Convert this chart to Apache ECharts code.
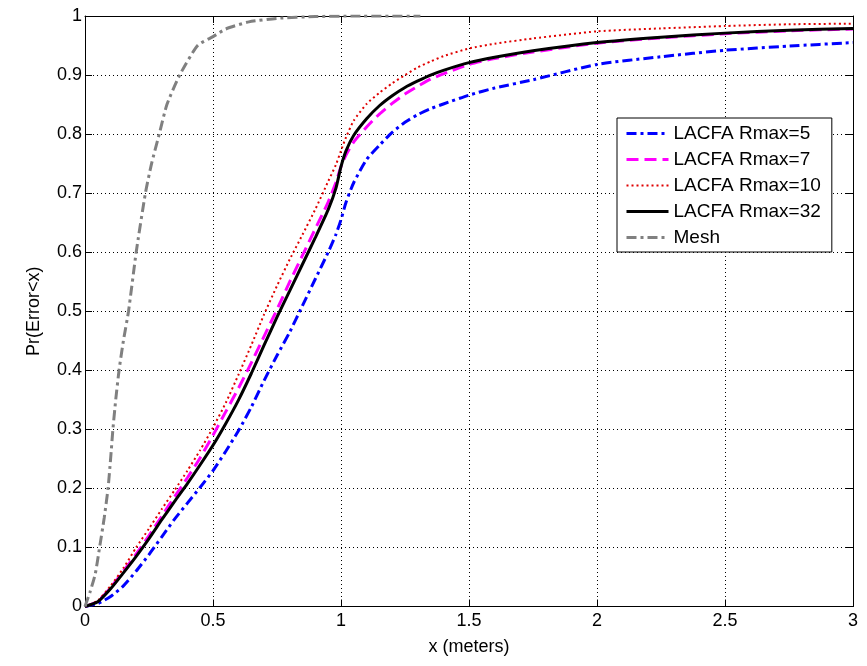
<!DOCTYPE html>
<html>
<head>
<meta charset="utf-8">
<script src="https://cdn.jsdelivr.net/npm/echarts@6/dist/echarts.min.js"></script>
<style>
html,body{margin:0;padding:0;background:#fff;}
#chart{width:867px;height:666px;}
</style>
</head>
<body>
<div id="chart"></div>
<script>
// Shared x positions (meters) for LACFA curves
const xLacfa = [0,0.05,0.1,0.15,0.2,0.25,0.3,0.35,0.4,0.45,0.5,0.55,0.6,0.65,0.7,0.75,0.8,0.85,0.9,0.95,0.98,1.0,1.02,1.05,1.1,1.15,1.2,1.25,1.3,1.35,1.4,1.5,1.6,1.75,2.0,2.25,2.5,2.75,3.0];
const yRmax5 = [0,0.005,0.017,0.035,0.06,0.088,0.118,0.148,0.175,0.202,0.23,0.263,0.298,0.338,0.383,0.425,0.465,0.51,0.555,0.6,0.63,0.655,0.685,0.718,0.757,0.781,0.803,0.82,0.833,0.843,0.851,0.866,0.878,0.892,0.918,0.931,0.942,0.949,0.955];
const yRmax7 = [0,0.009,0.032,0.06,0.089,0.12,0.153,0.186,0.218,0.252,0.29,0.33,0.37,0.413,0.458,0.503,0.55,0.595,0.64,0.685,0.718,0.745,0.765,0.787,0.812,0.834,0.852,0.868,0.881,0.893,0.902,0.918,0.928,0.939,0.954,0.963,0.97,0.975,0.978];
const yRmax10 = [0,0.01,0.035,0.065,0.1,0.132,0.165,0.197,0.23,0.265,0.303,0.345,0.393,0.443,0.495,0.543,0.588,0.63,0.673,0.72,0.748,0.772,0.795,0.823,0.851,0.87,0.886,0.9,0.913,0.923,0.932,0.945,0.953,0.962,0.974,0.979,0.983,0.986,0.987];
const yRmax32 = [0,0.008,0.03,0.057,0.085,0.115,0.147,0.178,0.208,0.24,0.273,0.31,0.35,0.395,0.443,0.49,0.535,0.58,0.625,0.672,0.708,0.745,0.772,0.798,0.826,0.848,0.865,0.879,0.89,0.9,0.908,0.921,0.93,0.941,0.955,0.964,0.971,0.976,0.979];
// Mesh curve
const xMesh = [0,0.02,0.04,0.057,0.075,0.09,0.1,0.109,0.12,0.133,0.15,0.17,0.2,0.236,0.26,0.29,0.32,0.37,0.44,0.5,0.55,0.64,0.75,0.9,1.05,1.31];
const yMesh = [0,0.025,0.055,0.1,0.15,0.2,0.25,0.3,0.35,0.4,0.45,0.5,0.6,0.7,0.75,0.8,0.85,0.9,0.95,0.965,0.978,0.99,0.996,0.999,1.0,1.0];

const seriesNames = ['LACFA Rmax=5','LACFA Rmax=7','LACFA Rmax=10','LACFA Rmax=32','Mesh'];
const xTicks = {min:0, max:3, interval:0.5};
const yTicks = {min:0, max:1, interval:0.1};

function pairs(xs, ys){ return xs.map((x,i)=>[x, ys[i]]); }

const font = 'Liberation Sans, Arial, sans-serif';
const lineStyles = [
  {color:'#0000ff', width:3, type:[10,4,3,4]},
  {color:'#ff00ff', width:3, type:[12,6]},
  {color:'#e00000', width:2, type:[2,3]},
  {color:'#000000', width:3, type:'solid'},
  {color:'#808080', width:3, type:[10,4,3,4]}
];
const chart = echarts.init(document.getElementById('chart'), null, {renderer:'canvas'});

const baseAxis = {
  axisLine:{show:true, onZero:false, lineStyle:{color:'#000', width:1}},
  axisTick:{show:true, inside:true, length:7, lineStyle:{color:'#000'}},
};

chart.setOption({
  animation:false,
  backgroundColor:'#fff',
  grid:{left:85, right:14, top:16, bottom:59.5, containLabel:false},
  legend:{
    orient:'vertical', left:617, top:118,
    padding:[6,11,5,8],
    itemWidth:42, itemHeight:14, itemGap:7,
    itemStyle:{opacity:0},
    backgroundColor:'#fff', borderColor:'#000', borderWidth:1, borderRadius:0,
    textStyle:{fontFamily:font, fontSize:19, lineHeight:19, color:'#000'},
    data:seriesNames.map((n,i)=>({name:n, lineStyle:{width:lineStyles[i].width, type:lineStyles[i].type, color:lineStyles[i].color}}))
  },
  xAxis:[
    Object.assign({}, baseAxis, {
      type:'value', position:'bottom', min:xTicks.min, max:xTicks.max, interval:xTicks.interval,
      name:'x (meters)', nameLocation:'middle', nameGap:32,
      nameTextStyle:{fontFamily:font, fontSize:18, color:'#000'},
      axisLabel:{fontFamily:font, fontSize:18, color:'#000', margin:6},
      splitLine:{show:true, lineStyle:{color:'#000', type:[1,3], width:1}}
    }),
    Object.assign({}, baseAxis, {
      type:'value', position:'top', min:xTicks.min, max:xTicks.max, interval:xTicks.interval,
      axisLabel:{show:false}, splitLine:{show:false}
    })
  ],
  yAxis:[
    Object.assign({}, baseAxis, {
      type:'value', position:'left', min:yTicks.min, max:yTicks.max, interval:yTicks.interval,
      name:'Pr(Error<x)', nameLocation:'middle', nameGap:42, nameRotate:90,
      nameTextStyle:{fontFamily:font, fontSize:18, color:'#000'},
      axisLabel:{fontFamily:font, fontSize:18, color:'#000', margin:3},
      splitLine:{show:true, lineStyle:{color:'#000', type:[1,3], width:1}}
    }),
    Object.assign({}, baseAxis, {
      type:'value', position:'right', min:yTicks.min, max:yTicks.max, interval:yTicks.interval,
      axisLabel:{show:false}, splitLine:{show:false}
    })
  ],
  series:[
    {name:seriesNames[0], type:'line', data:pairs(xLacfa,yRmax5), symbol:'none', smooth:0.2,
     lineStyle:lineStyles[0], itemStyle:{color:lineStyles[0].color}},
    {name:seriesNames[1], type:'line', data:pairs(xLacfa,yRmax7), symbol:'none', smooth:0.2,
     lineStyle:lineStyles[1], itemStyle:{color:lineStyles[1].color}},
    {name:seriesNames[2], type:'line', data:pairs(xLacfa,yRmax10), symbol:'none', smooth:0.2,
     lineStyle:lineStyles[2], itemStyle:{color:lineStyles[2].color}},
    {name:seriesNames[3], type:'line', data:pairs(xLacfa,yRmax32), symbol:'none', smooth:0.2,
     lineStyle:lineStyles[3], itemStyle:{color:lineStyles[3].color}},
    {name:seriesNames[4], type:'line', data:pairs(xMesh,yMesh), symbol:'none', smooth:0.2,
     lineStyle:lineStyles[4], itemStyle:{color:lineStyles[4].color}}
  ]
});
</script>
</body>
</html>
